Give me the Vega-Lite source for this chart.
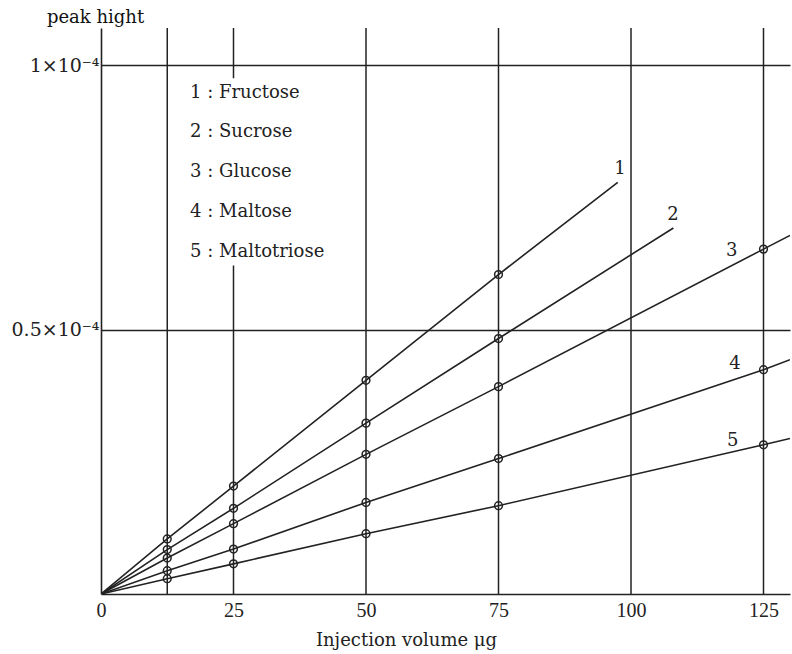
{
  "$schema": "https://vega.github.io/schema/vega-lite/v6.json",
  "width": 689,
  "height": 566,
  "autosize": {"type": "none"},
  "padding": {"left": 101, "top": 28, "right": 2, "bottom": 60},
  "background": "white",
  "config": {
    "view": {"stroke": null},
    "font": "DejaVu Serif"
  },
  "datasets": {
    "lines": [
      {"s": 1, "x": 0, "y": 0, "m": false},
      {"s": 1, "x": 12.5, "y": 0.104, "m": true},
      {"s": 1, "x": 25, "y": 0.204, "m": true},
      {"s": 1, "x": 50, "y": 0.404, "m": true},
      {"s": 1, "x": 75, "y": 0.604, "m": true},
      {"s": 1, "x": 97.5, "y": 0.778, "m": false},
      {"s": 2, "x": 0, "y": 0, "m": false},
      {"s": 2, "x": 12.5, "y": 0.084, "m": true},
      {"s": 2, "x": 25, "y": 0.162, "m": true},
      {"s": 2, "x": 50, "y": 0.323, "m": true},
      {"s": 2, "x": 75, "y": 0.483, "m": true},
      {"s": 2, "x": 108, "y": 0.692, "m": false},
      {"s": 3, "x": 0, "y": 0, "m": false},
      {"s": 3, "x": 12.5, "y": 0.068, "m": true},
      {"s": 3, "x": 25, "y": 0.133, "m": true},
      {"s": 3, "x": 50, "y": 0.264, "m": true},
      {"s": 3, "x": 75, "y": 0.392, "m": true},
      {"s": 3, "x": 125, "y": 0.652, "m": true},
      {"s": 3, "x": 130, "y": 0.678, "m": false},
      {"s": 4, "x": 0, "y": 0, "m": false},
      {"s": 4, "x": 12.5, "y": 0.044, "m": true},
      {"s": 4, "x": 25, "y": 0.085, "m": true},
      {"s": 4, "x": 50, "y": 0.173, "m": true},
      {"s": 4, "x": 75, "y": 0.256, "m": true},
      {"s": 4, "x": 125, "y": 0.424, "m": true},
      {"s": 4, "x": 130, "y": 0.443, "m": false},
      {"s": 5, "x": 0, "y": 0, "m": false},
      {"s": 5, "x": 12.5, "y": 0.029, "m": true},
      {"s": 5, "x": 25, "y": 0.057, "m": true},
      {"s": 5, "x": 50, "y": 0.114, "m": true},
      {"s": 5, "x": 75, "y": 0.167, "m": true},
      {"s": 5, "x": 125, "y": 0.282, "m": true},
      {"s": 5, "x": 130, "y": 0.294, "m": false}
    ],
    "grid": [
      {"x": 12.5, "y": 0, "y2": 1.07},
      {"x": 25, "y": 0, "y2": 0.621},
      {"x": 25, "y": 0.975, "y2": 1.07},
      {"x": 50, "y": 0, "y2": 1.07},
      {"x": 75, "y": 0, "y2": 1.07},
      {"x": 100, "y": 0, "y2": 1.07},
      {"x": 125, "y": 0, "y2": 1.07}
    ],
    "numbers": [
      {"label": "1", "x": 97.9, "y": 0.804},
      {"label": "2", "x": 107.9, "y": 0.716},
      {"label": "3", "x": 119, "y": 0.649},
      {"label": "4", "x": 119.6, "y": 0.435},
      {"label": "5", "x": 119.2, "y": 0.29}
    ],
    "legend": [
      {"label": "1 : Fructose", "x": 16.8, "y": 0.947},
      {"label": "2 : Sucrose", "x": 16.8, "y": 0.873},
      {"label": "3 : Glucose", "x": 16.8, "y": 0.797},
      {"label": "4 : Maltose", "x": 16.8, "y": 0.722},
      {"label": "5 : Maltotriose", "x": 16.8, "y": 0.646}
    ]
  },
  "layer": [
    {
      "data": {"name": "grid"},
      "mark": {"type": "rule", "color": "#222", "strokeWidth": 1.5},
      "encoding": {
        "x": {"field": "x", "type": "quantitative"},
        "y": {"field": "y", "type": "quantitative"},
        "y2": {"field": "y2"}
      }
    },
    {
      "data": {"name": "lines"},
      "mark": {"type": "line", "color": "#222", "strokeWidth": 1.6, "clip": true},
      "encoding": {
        "x": {
          "field": "x", "type": "quantitative",
          "scale": {"domain": [0, 130], "nice": false, "zero": false},
          "axis": {
            "values": [0, 25, 50, 75, 100, 125],
            "grid": false, "ticks": false,
            "domainColor": "#222", "domainWidth": 1.6,
            "labelFont": "Liberation Serif", "labelFontSize": 20, "labelColor": "#222",
            "labelPadding": 6, "labelFlush": false, "labelOverlap": false,
            "title": "Injection volume μg",
            "titleFont": "DejaVu Serif", "titleFontSize": 18, "titleFontWeight": "normal",
            "titleColor": "#222", "titleAlign": "center", "titleX": 305, "titleY": 51,
            "titleBaseline": "alphabetic"
          }
        },
        "y": {
          "field": "y", "type": "quantitative",
          "scale": {"domain": [0, 1.07], "nice": false},
          "axis": {
            "values": [0.5, 1],
            "labelExpr": "datum.value == 1 ? '1×10⁻⁴' : '0.5×10⁻⁴'",
            "grid": true, "gridColor": "#222", "gridWidth": 1.5, "gridOpacity": 1,
            "ticks": false,
            "domainColor": "#222", "domainWidth": 1.6,
            "labelFont": "DejaVu Serif", "labelFontSize": 19, "labelColor": "#222",
            "labelPadding": 2,
            "title": "peak hight", "titleAngle": 0,
            "titleFont": "DejaVu Serif", "titleFontSize": 18, "titleFontWeight": "normal",
            "titleColor": "#111", "titleAlign": "center", "titleBaseline": "middle",
            "titleX": -6, "titleY": -11
          }
        },
        "detail": {"field": "s", "type": "nominal"}
      }
    },
    {
      "data": {"name": "lines"},
      "transform": [{"filter": "datum.m"}],
      "mark": {"type": "point", "shape": "circle", "filled": false, "size": 60, "strokeWidth": 1.5, "color": "#222", "opacity": 1},
      "encoding": {
        "x": {"field": "x", "type": "quantitative"},
        "y": {"field": "y", "type": "quantitative"}
      }
    },
    {
      "data": {"name": "numbers"},
      "mark": {"type": "text", "fontSize": 18, "color": "#222", "align": "center", "baseline": "middle", "font": "DejaVu Serif"},
      "encoding": {
        "x": {"field": "x", "type": "quantitative"},
        "y": {"field": "y", "type": "quantitative"},
        "text": {"field": "label"}
      }
    },
    {
      "data": {"name": "legend"},
      "mark": {"type": "text", "fontSize": 18, "color": "#222", "align": "left", "baseline": "middle", "font": "DejaVu Serif"},
      "encoding": {
        "x": {"field": "x", "type": "quantitative"},
        "y": {"field": "y", "type": "quantitative"},
        "text": {"field": "label"}
      }
    }
  ]
}
